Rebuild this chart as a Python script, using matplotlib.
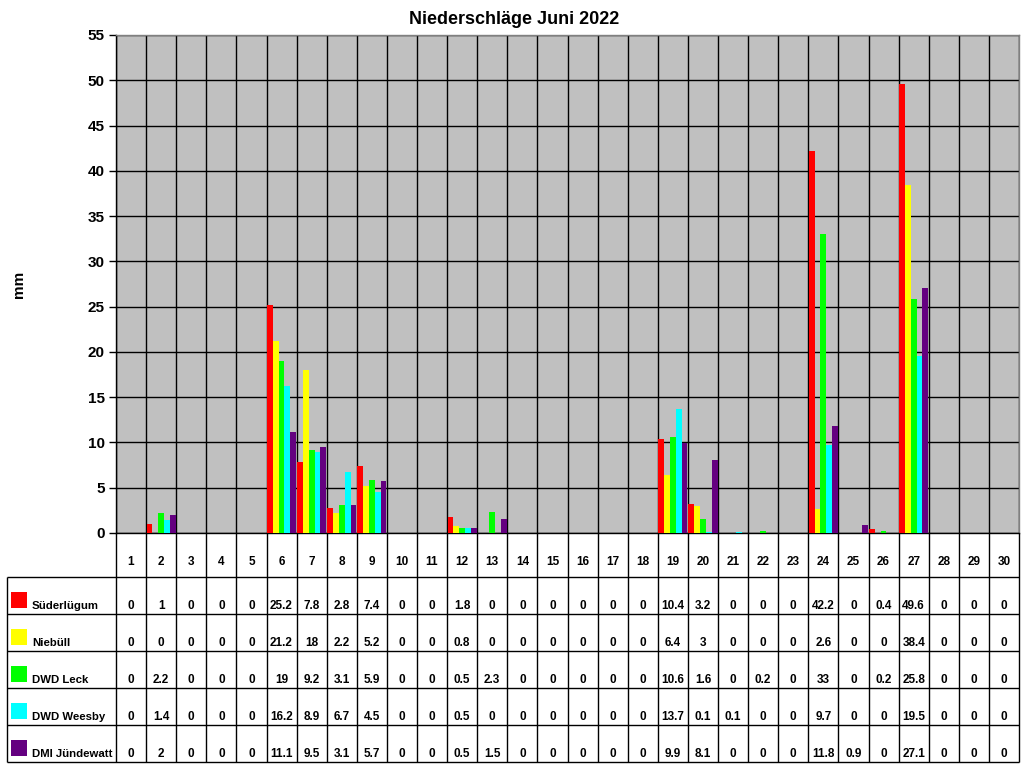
import numpy as np
import matplotlib
matplotlib.use("Agg")
import matplotlib.pyplot as plt

plt.rcParams['font.family'] = ['Liberation Sans', 'DejaVu Sans']
plt.rcParams['font.weight'] = 'bold'

days = list(range(1, 31))
stations = ["Süderlügum", "Niebüll", "DWD Leck", "DWD Weesby", "DMI Jündewatt"]
colors = ["#FF0000", "#FFFF00", "#00FF00", "#00FFFF", "#640080"]

suederluegum = [0, 1, 0, 0, 0, 25.2, 7.8, 2.8, 7.4, 0, 0, 1.8, 0, 0, 0, 0, 0, 0,
                10.4, 3.2, 0, 0, 0, 42.2, 0, 0.4, 49.6, 0, 0, 0]
niebuell = [0, 0, 0, 0, 0, 21.2, 18, 2.2, 5.2, 0, 0, 0.8, 0, 0, 0, 0, 0, 0,
            6.4, 3, 0, 0, 0, 2.6, 0, 0, 38.4, 0, 0, 0]
leck = [0, 2.2, 0, 0, 0, 19, 9.2, 3.1, 5.9, 0, 0, 0.5, 2.3, 0, 0, 0, 0, 0,
        10.6, 1.6, 0, 0.2, 0, 33, 0, 0.2, 25.8, 0, 0, 0]
weesby = [0, 1.4, 0, 0, 0, 16.2, 8.9, 6.7, 4.5, 0, 0, 0.5, 0, 0, 0, 0, 0, 0,
          13.7, 0.1, 0.1, 0, 0, 9.7, 0, 0, 19.5, 0, 0, 0]
juendewatt = [0, 2, 0, 0, 0, 11.1, 9.5, 3.1, 5.7, 0, 0, 0.5, 1.5, 0, 0, 0, 0, 0,
              9.9, 8.1, 0, 0, 0, 11.8, 0.9, 0, 27.1, 0, 0, 0]
series = [suederluegum, niebuell, leck, weesby, juendewatt]


def fmt(v):
    return f"{v:g}"


W, H = 1024, 768
fig = plt.figure(figsize=(W / 100, H / 100), dpi=100, facecolor="white")

# main chart area (pixel box 116..1019 x 35..533)
ax = fig.add_axes([116 / W, (H - 533) / H, 903 / W, 498 / H])
ax.set_facecolor("#C0C0C0")
x = np.array(days)
bw = 0.194
for i, (vals, c) in enumerate(zip(series, colors)):
    ax.bar(x + (i - 2) * bw, vals, width=bw, color=c, linewidth=0, zorder=3)

ax.set_xlim(0.5, 30.5)
ax.set_ylim(0, 55)
ax.set_yticks(np.arange(0, 56, 5))
ax.set_xticks([])
ax.set_xticks(np.arange(0.5, 31, 1), minor=True)
ax.tick_params(axis="x", which="both", length=0, labelbottom=False)
ax.tick_params(axis="y", length=5, width=1, labelsize=11, pad=3)
for lab in ax.get_yticklabels():
    lab.set_fontweight("bold")
ax.grid(axis="y", which="major", color="black", linewidth=1.0, zorder=1)
ax.grid(axis="x", which="minor", color="black", linewidth=1.0, zorder=1)
ax.set_axisbelow(True)
ax.spines["left"].set_color("black")
ax.spines["bottom"].set_color("black")
ax.spines["top"].set_color("#808080")
ax.spines["right"].set_color("#808080")
for s in ax.spines.values():
    s.set_linewidth(1.0)

fig.text(514 / W, 1 - 20 / H, "Niederschläge Juni 2022", ha="center", va="center",
         fontsize=13, fontweight="bold")
fig.text(19 / W, 1 - 284 / H, "mm", ha="center", va="center", rotation=90,
         fontsize=11, fontweight="bold")

# data table below (pixel box 7..1019 x 533..762)
cell = 903 / 30
x0 = 0.5 - 109 / cell
tab = fig.add_axes([7 / W, (H - 762) / H, 1012 / W, 229 / H])
tab.set_xlim(x0, 30.5)
tab.set_ylim(229, 0)
tab.axis("off")

head_h, row_h = 44, 37
row_edges = [head_h + row_h * k for k in range(len(stations) + 1)]
tab.vlines(np.arange(0.5, 31, 1), 0, 229, color="black", linewidth=1.0, clip_on=False)
tab.vlines([x0], head_h, 229, color="black", linewidth=1.0, clip_on=False)
tab.hlines(row_edges, x0, 30.5, color="black", linewidth=1.0, clip_on=False)

for d in days:
    tab.text(d, 29, str(d), ha="center", va="center", fontsize=8.5, fontweight="bold")

for r, (name, vals, c) in enumerate(zip(stations, series, colors)):
    bottom = row_edges[r + 1]
    top = row_edges[r]
    tab.add_patch(plt.Rectangle((x0 + 4 / cell, top + 15), 16 / cell, 16,
                                facecolor=c, edgecolor="none"))
    tab.text(x0 + 25 / cell, bottom - 5, name, ha="left", va="baseline",
             fontsize=8.2, fontweight="bold")
    for d, v in zip(days, vals):
        tab.text(d, bottom - 5, fmt(v), ha="center", va="baseline",
                 fontsize=8.5, fontweight="bold")

fig.savefig("out.png", dpi=100, facecolor=fig.get_facecolor())
plt.close(fig)
